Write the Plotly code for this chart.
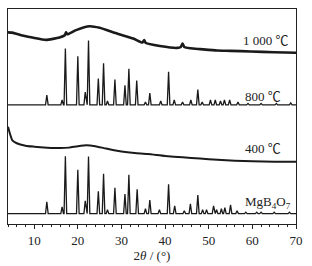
import plotly.graph_objects as go

# ---- data (arbitrary intensity units, stacked) ----
# MgB4O7 reference pattern: peak positions (2theta) and heights
mgb_pos = [12.9, 16.4, 17.15, 20.0, 21.7, 22.45, 24.7, 25.9, 26.8, 28.5, 30.8, 31.7, 33.6,
           35.5, 36.5, 38.7, 40.8, 42.2, 44.4, 45.8, 47.5, 48.6, 49.5, 51.1, 51.8, 52.9,
           53.7, 55.0, 56.5, 58.5, 61.0, 62.0, 65.0, 68.5]
mgb_h = [12, 7, 59, 45, 13, 58.6, 23, 41, 4, 26.6, 20, 40, 25,
         5, 14, 4, 30, 8, 3, 10, 19, 4, 4, 8, 4, 5,
         6, 9, 3, 1.5, 1.5, 1.5, 1.5, 1.5]
mgb_base = 10.7

# 800 C pattern
p800_pos = [12.9, 16.4, 17.15, 20.0, 21.7, 22.45, 24.7, 25.9, 26.8, 28.5, 30.8, 31.7, 33.5,
            35.5, 36.5, 39.0, 40.8, 42.1, 44.0, 45.9, 47.5, 48.5, 50.4, 51.5, 52.7, 53.6,
            54.8, 56.7, 59.0, 62.0, 65.5, 68.8]
p800_h = [10, 5, 58, 50, 13, 66, 27, 42.6, 4, 26, 20, 37, 25,
          3, 12, 4, 34, 5, 3, 5, 15.6, 3, 5, 5, 4, 5,
          5, 3, 1.5, 1.5, 1.5, 2]
p800_base = 122.5

# 400 C pattern (amorphous)
t400_x = [4.0, 4.5, 5.0, 6.0, 8.0, 10.0, 13.0, 16.0, 18.0, 20.0, 22.0, 24.0, 26.0, 28.0,
          30.0, 33.0, 36.0, 40.0, 44.0, 48.0, 52.0, 56.0, 60.0, 65.0, 70.0]
t400_y = [100, 92, 86, 83, 80.5, 79.5, 78.5, 78, 78.5, 80, 81, 80, 78, 76,
          74.5, 73, 72, 70, 68.5, 67.3, 66, 65, 64.5, 64, 64]

# 1000 C pattern (amorphous with weak peaks)
t1000_x = [4.0, 5.0, 7.0, 9.6, 12.7, 15.8, 17.0, 17.3, 17.6, 19.6, 22.7, 25.0, 28.8, 32.7,
           34.8, 35.2, 35.6, 38.8, 42.7, 43.6, 44.0, 44.4, 45.8, 48.0, 51.9, 55.0, 59.6, 65.0, 70.0]
t1000_y = [197, 196.7, 194, 191.7, 189.3, 191.7, 194, 197, 195, 199.3, 203.3, 201.7, 196, 190.7,
           186.5, 189, 186, 183, 181, 182, 185.5, 182, 180.7, 179.8, 178.3, 178, 177.3, 176.5, 176]

x_ticks = [10, 20, 30, 40, 50, 60, 70]
labels = ["1 000 ℃", "800 ℃", "400 ℃", "MgB<sub>4</sub>O<sub>7</sub>"]
label_x = [68.8, 67.0, 67.0, 69.3]
label_y = [189, 131, 78, 22]


def stick_profile(pos, h, base, w=0.3, x0=4.0, x1=70.0):
    xs, ys = [x0], [base]
    for p, hh in zip(pos, h):
        xs += [p - w, p, p + w]
        ys += [base, base + hh, base]
    xs.append(x1)
    ys.append(base)
    return xs, ys


fig = go.Figure()
mx, my = stick_profile(mgb_pos, mgb_h, mgb_base)
fig.add_trace(go.Scatter(x=mx, y=my, mode="lines", line=dict(color="#1a1a1a", width=1.3)))
ex, ey = stick_profile(p800_pos, p800_h, p800_base)
fig.add_trace(go.Scatter(x=ex, y=ey, mode="lines", line=dict(color="#1a1a1a", width=1.3)))
fig.add_trace(go.Scatter(x=t400_x, y=t400_y, mode="lines",
                         line=dict(color="#1a1a1a", width=2, shape="spline", smoothing=0.6)))
fig.add_trace(go.Scatter(x=t1000_x, y=t1000_y, mode="lines",
                         line=dict(color="#1a1a1a", width=2.6, shape="spline", smoothing=0.5)))

for t, xx, yy in zip(labels, label_x, label_y):
    fig.add_annotation(x=xx, y=yy, text=t, showarrow=False, xanchor="right", yanchor="middle",
                       font=dict(family="Liberation Serif, Noto Sans CJK SC, serif", size=13, color="#222"))

fig.update_layout(
    width=312, height=266,
    margin=dict(l=8, r=16, t=9, b=36),
    paper_bgcolor="white", plot_bgcolor="white",
    showlegend=False,
    font=dict(family="Liberation Serif, serif", size=13, color="#222"),
)
fig.update_xaxes(range=[4, 70], tickvals=x_ticks, ticks="outside", ticklen=4, tickwidth=1,
                 tickcolor="#222", showline=True, linecolor="#222", linewidth=1, mirror=True,
                 showgrid=False, zeroline=False, tickfont=dict(size=13),
                 minor=dict(dtick=2, tick0=0, ticks="outside", ticklen=2, tickcolor="#222"),
                 title=dict(text="2<i>θ</i> / (°)", standoff=1, font=dict(size=13)))
fig.update_yaxes(range=[0, 221], showticklabels=False, ticks="", showline=True, linecolor="#222",
                 linewidth=1, mirror=True, showgrid=False, zeroline=False)

fig.write_html("out.html", config={"displayModeBar": False},
               post_script="document.body.style.margin='0';")
